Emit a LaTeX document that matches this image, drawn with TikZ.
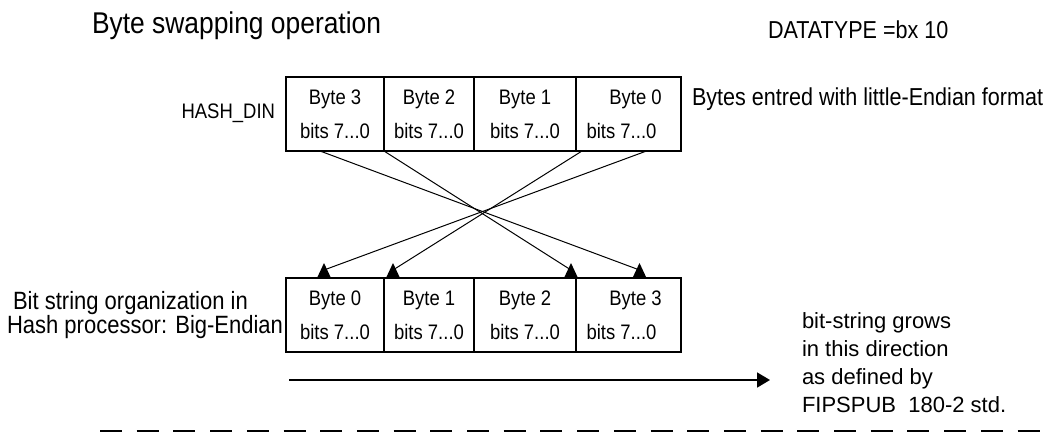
\documentclass[tikz,border=0pt]{standalone}
\usepackage{fontspec}
\setmainfont{Liberation Sans}[FakeStretch=0.88]
\newfontfamily\widesans{Liberation Sans}
\usetikzlibrary{positioning,arrows.meta}

\begin{document}
\begin{tikzpicture}[
    x=1pt, y=-1pt,
    every node/.style={inner sep=0pt, outer sep=0pt},
    cell/.style={rectangle, draw=black, line width=1.6pt, minimum height=74pt,
                 align=center, font=\fontsize{21}{34}\selectfont},
    lbl/.style={font=\fontsize{24.5}{23}\selectfont},
    xline/.style={line width=1pt},
    arr/.style={-{Triangle[length=13pt, width=15pt]}, line width=1.8pt}
]
\useasboundingbox (0,0) rectangle (1052,437);

% input word, little-endian
\node[cell, minimum width=98pt, anchor=north west] (hi3) at (286,77) {Byte 3\\bits 7...0};
\node[cell, minimum width=90pt, right=0pt of hi3]  (hi2) {Byte 2\\bits 7...0};
\node[cell, minimum width=102pt, right=0pt of hi2] (hi1) {Byte 1\\bits 7...0};
\node[cell, minimum width=105pt, right=0pt of hi1] (hi0) {\hspace*{14pt}Byte 0\\bits 7...0\hspace*{14pt}};

% swapped word, big-endian
\node[cell, minimum width=98pt, below=127pt of hi3] (lo0) {Byte 0\\bits 7...0};
\node[cell, minimum width=90pt, right=0pt of lo0]  (lo1) {Byte 1\\bits 7...0};
\node[cell, minimum width=102pt, right=0pt of lo1] (lo2) {Byte 2\\bits 7...0};
\node[cell, minimum width=105pt, right=0pt of lo2] (lo3) {\hspace*{14pt}Byte 3\\bits 7...0\hspace*{14pt}};

% labels
\node[font=\fontsize{30}{36}\selectfont, anchor=base west] (title) at (92,33) {Byte swapping operation};
\node[lbl, anchor=base west] (dtype) at (768,38) {DATATYPE =bx 10};
\node[font=\fontsize{21}{25}\selectfont, anchor=base east] (din)
    at ([xshift=-11pt,yshift=-41pt]hi3.north west) {HASH\_DIN};
\node[lbl, anchor=base west] (fmt)
    at ([xshift=11pt,yshift=-28pt]hi0.north east) {Bytes entred with little-Endian format};
\node[font=\fontsize{25}{23}\selectfont, align=left, left=3pt of lo0] (org)
    {\hspace*{6pt}Bit string organization in\\Hash processor: Big-Endian};
\node[font=\widesans\fontsize{22}{27.7}\selectfont, align=left, anchor=north west] (grow)
    at (802,313) {bit-string grows\\in this direction\\as defined by\\FIPSPUB\ \ 180-2 std.};

% byte swap lines
\coordinate (s3) at ([xshift=-15pt]hi3.south);
\coordinate (s2) at (hi2.south west);
\coordinate (s1) at ([xshift=6pt]hi1.south east);
\coordinate (s0) at ([xshift=18pt]hi0.south);
\coordinate (e0) at ([xshift=-11pt,yshift=8pt]lo0.north);
\coordinate (e1) at ([xshift=9pt,yshift=8pt]lo1.north west);
\coordinate (e2) at ([xshift=-5pt,yshift=8pt]lo2.north east);
\coordinate (e3) at ([xshift=11pt,yshift=8pt]lo3.north);
\foreach \i in {0,...,3} {
  \draw[xline] (s\i) -- (e\i);
  \fill (e\i) ++(-7pt,-8pt) -- ++(7pt,15pt) -- ++(7pt,-15pt) -- cycle;
}

% growth direction
\coordinate (gs) at (289,380);
\coordinate (ge) at (770,380);
\draw[arr] (gs) -- (ge);

\coordinate (d0) at (100,431);
\coordinate (d1) at (1041,431);
\draw[line width=2.6pt, dash pattern=on 22pt off 14.7pt] (d0) -- (d1);
\end{tikzpicture}
\end{document}
